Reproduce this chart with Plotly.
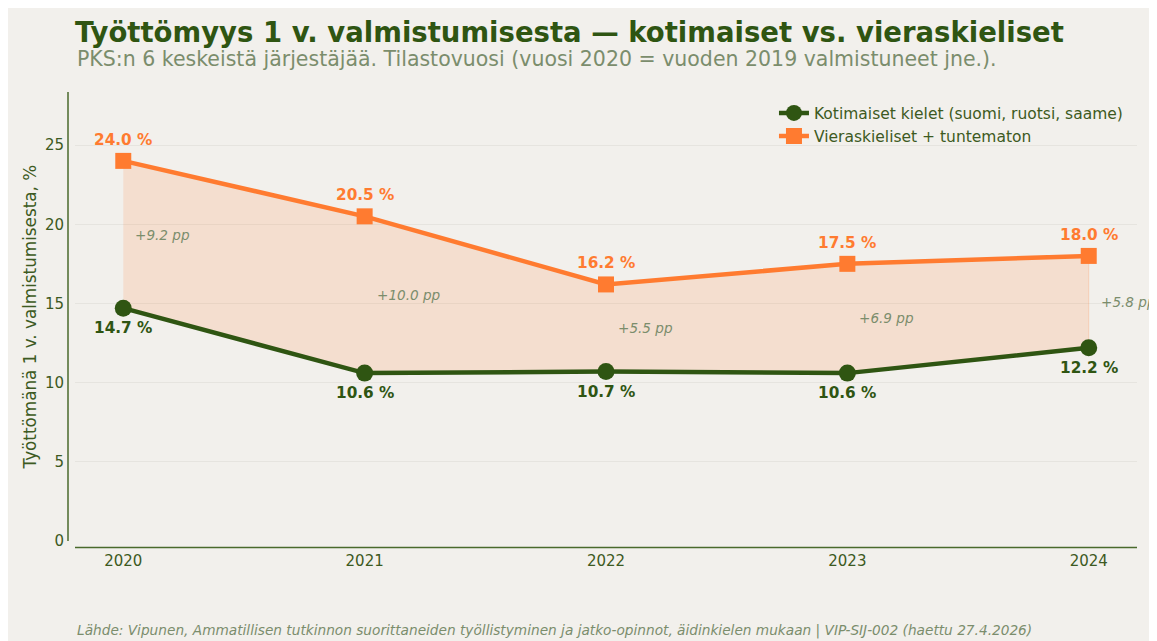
import plotly.graph_objects as go

years = [2020, 2021, 2022, 2023, 2024]
kotimaiset = [14.7, 10.6, 10.7, 10.6, 12.2]
vieraskieliset = [24.0, 20.5, 16.2, 17.5, 18.0]
gap_labels = ["+9.2 pp", "+10.0 pp", "+5.5 pp", "+6.9 pp", "+5.8 pp"]
y_ticks = [0, 5, 10, 15, 20, 25]

GREEN = "#2f5512"
ORANGE = "#ff7b30"
BG = "#f2f0ec"
MUTED = "#7b8d6c"
TEXTG = "#3d5a22"
FONT = "DejaVu Sans"

fig = go.Figure()

# filled band between the series
fig.add_trace(go.Scatter(
    x=years + years[::-1],
    y=vieraskieliset + kotimaiset[::-1],
    fill="toself",
    fillcolor="rgba(255,123,48,0.15)",
    line=dict(color="rgba(255,123,48,0.22)", width=1),
    mode="lines", hoverinfo="skip", showlegend=False,
))

fig.add_trace(go.Scatter(
    x=years, y=kotimaiset, mode="lines+markers",
    name="Kotimaiset kielet (suomi, ruotsi, saame)",
    line=dict(color=GREEN, width=4.5),
    marker=dict(symbol="circle", size=17, color=GREEN),
))
fig.add_trace(go.Scatter(
    x=years, y=vieraskieliset, mode="lines+markers",
    name="Vieraskieliset + tuntematon",
    line=dict(color=ORANGE, width=4.5),
    marker=dict(symbol="square", size=16, color=ORANGE),
))

annotations = []
for x, yk, yv, g in zip(years, kotimaiset, vieraskieliset, gap_labels):
    annotations.append(dict(x=x, y=yv, text=f"<b>{yv:.1f} %</b>", showarrow=False,
                            yshift=21, font=dict(family=FONT, size=15.3, color=ORANGE)))
    annotations.append(dict(x=x, y=yk, text=f"<b>{yk:.1f} %</b>", showarrow=False,
                            yshift=-20, font=dict(family=FONT, size=15.3, color=GREEN)))
    annotations.append(dict(x=x, y=(yk + yv) / 2, text=f"<i>{g}</i>", showarrow=False,
                            xanchor="left", xshift=10,
                            font=dict(family=FONT, size=13.6, color=MUTED)))

# subtitle
annotations.append(dict(xref="paper", yref="paper", x=0, y=1.0735, xanchor="left", yanchor="middle",
                        text="PKS:n 6 keskeistä järjestäjää. Tilastovuosi (vuosi 2020 = vuoden 2019 valmistuneet jne.).",
                        showarrow=False, font=dict(family=FONT, size=20.5, color=MUTED)))
# source
annotations.append(dict(xref="paper", yref="paper", x=0, y=-0.2004, xanchor="left", yanchor="middle",
                        text="<i>Lähde: Vipunen, Ammatillisen tutkinnon suorittaneiden työllistyminen ja jatko-opinnot, äidinkielen mukaan | VIP-SIJ-002 (haettu 27.4.2026)</i>",
                        showarrow=False, font=dict(family=FONT, size=13.7, color=MUTED)))
# y axis title
annotations.append(dict(xref="paper", yref="paper", x=-0.0424, y=0.5, xanchor="center", yanchor="middle",
                        textangle=-90, text="Työttömänä 1 v. valmistumisesta, %",
                        showarrow=False, font=dict(family=FONT, size=16.8, color=TEXTG)))

shapes = [
    # offset y spine
    dict(type="line", xref="paper", yref="paper", xsizemode="pixel", xanchor=0,
         x0=-7, x1=-7, y0=0, y1=1, line=dict(color="#4a6a2c", width=1.5)),
    # offset x spine
    dict(type="line", xref="paper", yref="paper", ysizemode="pixel", yanchor=0,
         x0=0, x1=1, y0=-6.5, y1=-6.5, line=dict(color="#4a6a2c", width=1.5)),
]

fig.update_layout(
    width=1157, height=641,
    margin=dict(l=67, r=28, t=84, b=108),
    paper_bgcolor=BG,
    plot_bgcolor=BG,
    font=dict(family=FONT, color=TEXTG),
    title=dict(text="<b>Työttömyys 1 v. valmistumisesta — kotimaiset vs. vieraskieliset</b>",
               xref="paper", x=0, xanchor="left", yref="container", y=1 - 24 / 641, yanchor="middle",
               font=dict(family=FONT, size=27.5, color=GREEN)),
    showlegend=True,
    legend=dict(x=0.9915, xanchor="right", y=0.9904, yanchor="top", bgcolor="rgba(0,0,0,0)",
                font=dict(family=FONT, size=15.5, color=TEXTG), tracegroupgap=0),
    annotations=annotations,
    shapes=shapes,
)
fig.update_xaxes(range=[2019.8, 2024.2], tickvals=years, ticktext=[str(y) for y in years],
                 showgrid=False, zeroline=False, showline=False, ticks="",
                 tickfont=dict(family=FONT, size=15, color=TEXTG), ticklabelstandoff=9)
fig.update_yaxes(range=[0, 28.35], tickvals=y_ticks, showgrid=True, gridcolor="#e6e4df",
                 gridwidth=1, zeroline=False, showline=False, ticks="",
                 tickfont=dict(family=FONT, size=15, color=TEXTG), ticklabelstandoff=10)

fig.write_html("out.html")
